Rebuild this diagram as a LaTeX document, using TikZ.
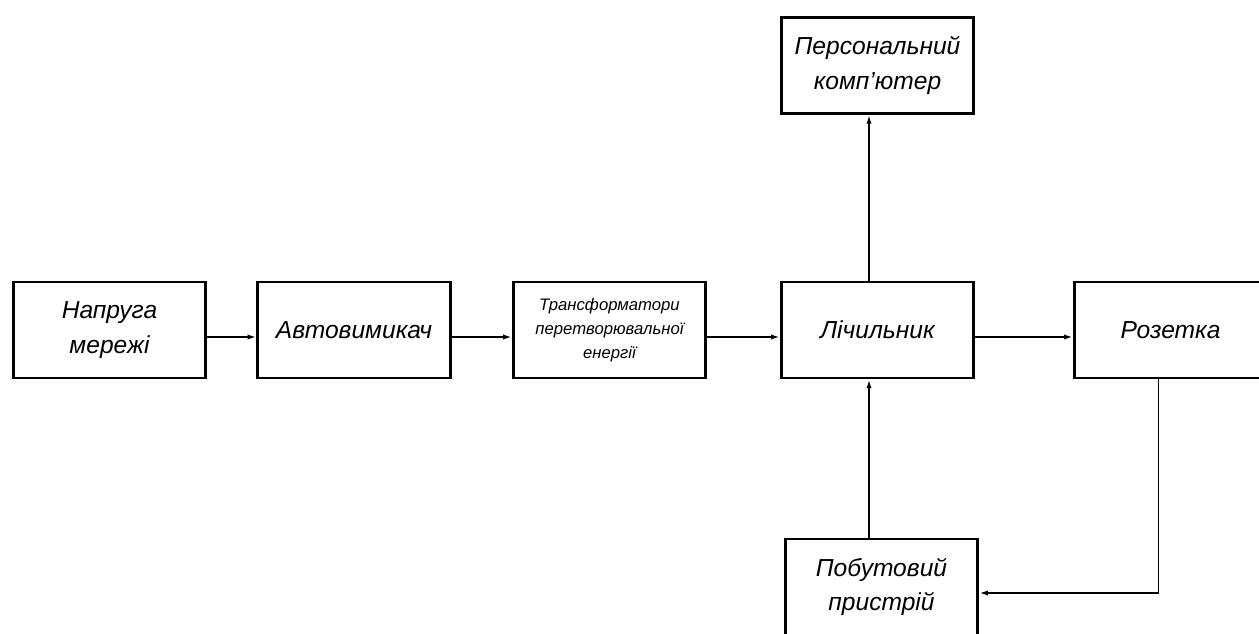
\documentclass[tikz,border=0pt]{standalone}
\usepackage{fontspec}
\setmainfont{Liberation Sans}
\usepackage{tikz}
\usetikzlibrary{arrows.meta}
\definecolor{schemeblack}{RGB}{0,0,0}

\begin{document}
\begin{tikzpicture}[x=0.02cm,y=0.02cm,
    block/.style={draw=schemeblack,line width=1.6pt,minimum width=3.85cm,minimum height=1.92cm,
      align=center,inner sep=2pt,font=\fontsize{14}{19.5}\selectfont\itshape},
    smalltext/.style={font=\fontsize{9.5}{13.6}\selectfont\itshape},
    flow/.style={draw=schemeblack,line width=1.1pt,-{Latex[length=5pt,width=3pt]}}]
    % Page frame (right and bottom blocks run off the sheet)
    \clip (0,0) rectangle (1259,633);
    % Main chain
    \node[block] (napruga) at (109.5,303) {Напруга\\мережі};
    \node[block] (avtomat) at (354,303) {Автовимикач};
    \node[block,smalltext] (transf) at (609.5,303) {Трансформатори\\перетворювальної\\енергії};
    \node[block] (lich) at (877.5,303) {Лічильник};
    \node[block] (rozetka) at (1170.5,303) {Розетка};
    % Top and bottom blocks
    \node[block] (pc) at (877.5,567.5) {Персональний\\комп’ютер};
    \node[block] (pryst) at (881.5,46) {Побутовий\\пристрій};
    % Connectors
    \draw[flow] ([yshift=-0.14cm]napruga.east) -- ([yshift=-0.14cm]avtomat.west);
    \draw[flow] ([yshift=-0.14cm]avtomat.east) -- ([yshift=-0.14cm]transf.west);
    \draw[flow] ([yshift=-0.14cm]transf.east) -- ([yshift=-0.14cm]lich.west);
    \draw[flow] ([yshift=-0.14cm]lich.east) -- ([yshift=-0.14cm]rozetka.west);
    \draw[flow] ([xshift=-0.17cm]lich.north) -- ([xshift=-0.17cm]pc.south);
    \draw[flow] ([xshift=-0.17cm]lich.south |- pryst.north) -- ([xshift=-0.17cm]lich.south);
    \draw[flow] ([xshift=-0.24cm]rozetka.south) |- ([yshift=-0.12cm]pryst.east);
\end{tikzpicture}
\end{document}
